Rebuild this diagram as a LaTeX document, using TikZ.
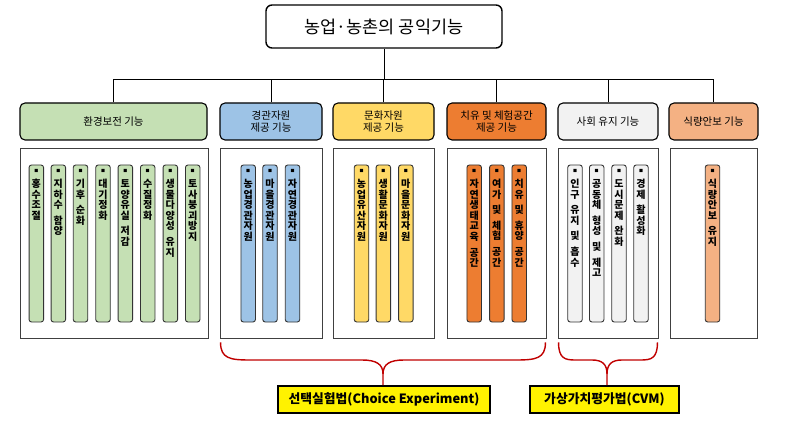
\documentclass[tikz,border=0pt]{standalone}
\usepackage{fontspec}
\setmainfont{Noto Sans CJK KR}
\definecolor{cgreen}{HTML}{C5E0B4}
\definecolor{cblue}{HTML}{9DC3E6}
\definecolor{cyellow}{HTML}{FFD966}
\definecolor{corange}{HTML}{ED7D31}
\definecolor{cgray}{HTML}{F2F2F2}
\definecolor{cpeach}{HTML}{F4B183}
\definecolor{bred}{HTML}{C00000}
\newcommand\mybar[4]{%
  \node[barbox, fill=#3] (#1) at (#2,243.5) {};
  \node[bartext, anchor=north] (#1t) at ([yshift=-5pt]#1.north) {{\fontsize{4}{4}\selectfont ■}\\[4pt]#4};%
}
\begin{document}
\begin{tikzpicture}[x=1pt,y=-1pt,
  titlebox/.style={draw, line width=1.4pt, rounded corners=6pt, fill=white, font=\fontsize{17.5}{19}\selectfont, inner sep=0pt},
  catbox/.style={draw, line width=1.1pt, rounded corners=5pt, align=center, font=\fontsize{10.5}{12.5}\selectfont, minimum height=37pt, inner sep=0pt},
  panel/.style={draw=black!75, line width=0.9pt, inner sep=0pt, minimum height=190pt},
  barbox/.style={draw=black!80, line width=0.9pt, rounded corners=2.5pt, minimum width=14.5pt, minimum height=157pt, inner sep=0pt},
  bartext/.style={align=center, font=\bfseries\fontsize{10}{10.6}\selectfont, inner sep=0pt},
  brace/.style={draw=bred, line width=1.4pt},
  labelbox/.style={draw, line width=1.6pt, fill=yellow, font=\bfseries\fontsize{12.8}{14}\selectfont, inner sep=0pt, minimum height=27pt},
  conn/.style={line width=0.8pt}]
\useasboundingbox (0,0) rectangle (786,430);

\node[titlebox, minimum width=236pt, minimum height=43pt] (top) at (384,26.5) {농업·농촌의 공익기능};

\node[catbox, fill=cgreen, minimum width=187pt] (c1) at (113.5,121.5) {환경보전 기능};
\node[catbox, fill=cblue, minimum width=102pt] (c2) at (271,121.5) {경관자원\\제공 기능};
\node[catbox, fill=cyellow, minimum width=101pt] (c3) at (383.5,121.5) {문화자원\\제공 기능};
\node[catbox, fill=corange, minimum width=99pt] (c4) at (496.5,121.5) {치유 및 체험공간\\제공 기능};
\node[catbox, fill=cgray, minimum width=100pt] (c5) at (608,121.5) {사회 유지 기능};
\node[catbox, fill=cpeach, minimum width=89pt] (c6) at (713.5,121.5) {식량안보 기능};

\coordinate (bus) at (0,79);
\draw[conn] (top.south) -- (top.south |- bus);
\draw[conn] (c1.north) -- (c1.north |- bus) -- (c6.north |- bus) -- (c6.north);
\foreach \k in {2,3,4,5} \draw[conn] (c\k.north) -- (c\k.north |- bus);

\node[panel, minimum width=188pt] (p1) at (114,243) {};
\node[panel, minimum width=102pt] (p2) at (271,243) {};
\node[panel, minimum width=101pt] (p3) at (383.5,243) {};
\node[panel, minimum width=99pt] (p4) at (496.5,243) {};
\node[panel, minimum width=100pt] (p5) at (608,243) {};
\node[panel, minimum width=87pt] (p6) at (713.5,243) {};

\mybar{g1}{36.3}{cgreen}{홍\\수\\조\\절}
\mybar{g2}{58.3}{cgreen}{지\\하\\수\\[5pt]함\\양}
\mybar{g3}{80.5}{cgreen}{기\\후\\[5pt]순\\화}
\mybar{g4}{103}{cgreen}{대\\기\\정\\화}
\mybar{g5}{125.3}{cgreen}{토\\양\\유\\실\\[5pt]저\\감}
\mybar{g6}{147.7}{cgreen}{수\\질\\정\\화}
\mybar{g7}{170.3}{cgreen}{생\\물\\다\\양\\성\\[5pt]유\\지}
\mybar{g8}{192.7}{cgreen}{토\\사\\붕\\괴\\방\\지}

\mybar{b1}{248.2}{cblue}{농\\업\\경\\관\\자\\원}
\mybar{b2}{270}{cblue}{마\\을\\경\\관\\자\\원}
\mybar{b3}{292.5}{cblue}{자\\연\\경\\관\\자\\원}

\mybar{y1}{361.5}{cyellow}{농\\업\\유\\산\\자\\원}
\mybar{y2}{383.3}{cyellow}{생\\활\\문\\화\\자\\원}
\mybar{y3}{405.8}{cyellow}{마\\을\\문\\화\\자\\원}

\mybar{o1}{474.2}{corange}{자\\연\\생\\태\\교\\육\\[5pt]공\\간}
\mybar{o2}{496.8}{corange}{여\\가\\[5pt]및\\[5pt]체\\험\\[5pt]공\\간}
\mybar{o3}{519.2}{corange}{치\\유\\[5pt]및\\[5pt]휴\\양\\[5pt]공\\간}

\mybar{s1}{575}{cgray}{인\\구\\[5pt]유\\지\\[5pt]및\\[5pt]흡\\수}
\mybar{s2}{596.7}{cgray}{공\\동\\체\\[5pt]형\\성\\[5pt]및\\[5pt]제\\고}
\mybar{s3}{619}{cgray}{도\\시\\문\\제\\[5pt]완\\화}
\mybar{s4}{641}{cgray}{경\\제\\[5pt]활\\성\\화}

\mybar{f1}{712.5}{cpeach}{식\\량\\안\\보\\[5pt]유\\지}

\node[labelbox, minimum width=212pt] (lab1) at (384,399.5) {선택실험법(Choice Experiment)};
\node[labelbox, minimum width=149pt] (lab2) at (604.5,399.5) {가상가치평가법(CVM)};

% braces
\coordinate (t1) at (lab1.north -| 383,0);
\coordinate (t2) at (lab2.north -| 607,0);
\path[brace] ([shift={(1pt,-4pt)}]p2.south west) .. controls +(0,16) and +(-20,0) .. (250,360) -- (362,360)
  .. controls (376,360) and (383,364) .. (383,374) -- (t1);
\path[brace] ([shift={(-1pt,-4pt)}]p4.south east) .. controls +(0,16) and +(20,0) .. (516,360) -- (404,360)
  .. controls (390,360) and (383,364) .. (383,374);
\path[brace] ([shift={(1pt,-4pt)}]p5.south west) .. controls +(0,16) and +(-10,0) .. (575,360) -- (592,360)
  .. controls (602,360) and (607,364) .. (607,374) -- (t2);
\path[brace] ([shift={(-1pt,-4pt)}]p5.south east) .. controls +(0,16) and +(10,0) .. (641,360) -- (622,360)
  .. controls (612,360) and (607,364) .. (607,374);
\end{tikzpicture}
\end{document}
